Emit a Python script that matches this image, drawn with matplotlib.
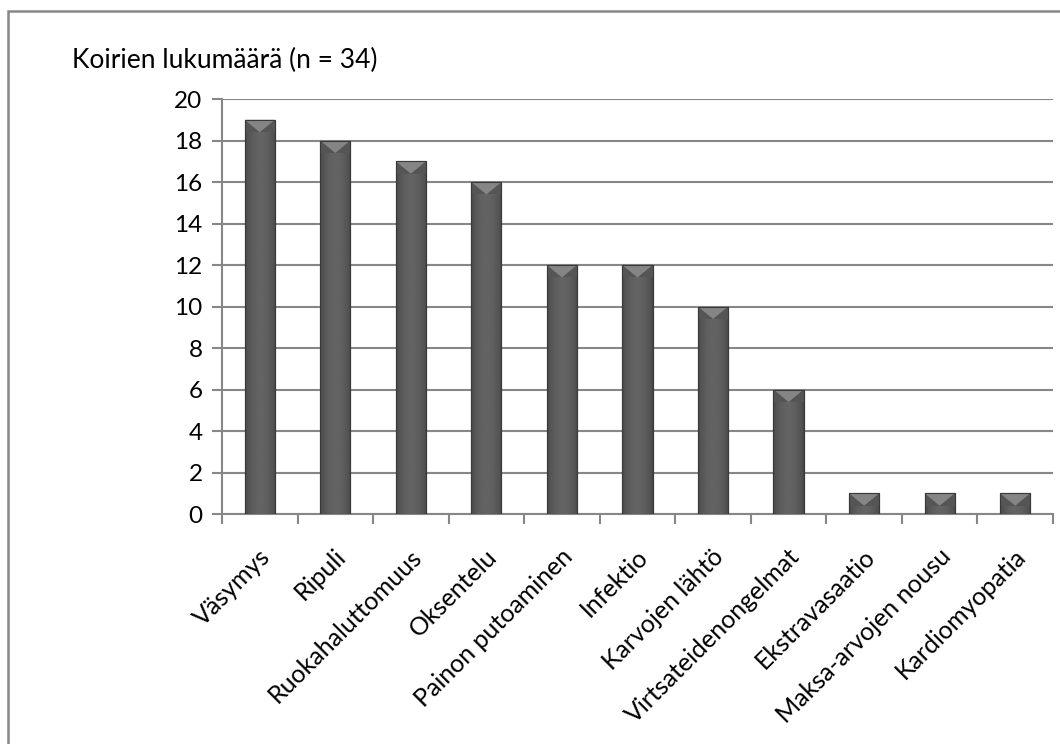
import matplotlib
matplotlib.use("Agg")
import matplotlib.pyplot as plt
import matplotlib.transforms as mtransforms
from matplotlib.patches import Rectangle, Polygon
import numpy as np

plt.rcParams['font.family'] = ['Lato', 'DejaVu Sans']

categories = ["Väsymys", "Ripuli", "Ruokahaluttomuus", "Oksentelu", "Painon putoaminen",
              "Infektio", "Karvojen lähtö", "Virtsateidenongelmat", "Ekstravasaatio",
              "Maksa-arvojen nousu", "Kardiomyopatia"]
counts = [19, 18, 17, 16, 12, 12, 10, 6, 1, 1, 1]
y_ticks = [0, 2, 4, 6, 8, 10, 12, 14, 16, 18, 20]
title = "Koirien lukumäärä (n = 34)"

GRID = "#878787"
BAR_W = 0.4

fig = plt.figure(figsize=(10.6, 7.44), dpi=100)
ax = fig.add_axes([0.2094, 0.3091, 0.7840, 0.5578])

x = np.arange(len(categories))
bars = ax.bar(x, counts, width=BAR_W, color="#505050", edgecolor="#3a3a3a",
              linewidth=0.8, zorder=3)

# horizontal shading across each bar (dark edges, lighter middle)
grad = np.linspace(0, 1, 64)
shade = 0.27 + 0.12 * np.sin(np.pi * grad) ** 0.6
img = np.tile(shade, (2, 1))
for b in bars:
    bx, bw, bh = b.get_x(), b.get_width(), b.get_height()
    im = ax.imshow(img, cmap="gray", vmin=0, vmax=1, aspect="auto",
                   extent=(bx, bx + bw, 0, bh), zorder=3.5, interpolation="bilinear")
    im.set_clip_path(b)
    # bevel at the top: darker band with a lighter inverted triangle
    bev = min(0.6, bh * 0.65)
    ax.add_patch(Polygon([(bx, bh), (bx + bw, bh), (bx + bw, bh - bev),
                          (bx, bh - bev)], closed=True,
                         facecolor="#555555", edgecolor="none", zorder=4))
    ax.add_patch(Polygon([(bx, bh), (bx + bw, bh), (bx + bw / 2, bh - bev)],
                         closed=True, facecolor="#858585", edgecolor="none", zorder=4.1))
    ax.add_patch(Rectangle((bx, 0), bw, bh, facecolor="none", edgecolor="#3a3a3a",
                           linewidth=0.8, zorder=4.2))

ax.set_xlim(-0.5, len(categories) - 0.5)
ax.set_ylim(0, 20)
ax.set_yticks(y_ticks)
ax.yaxis.grid(True, color=GRID, linewidth=1.5, zorder=0)
ax.set_axisbelow(True)

ax.set_xticks(x)
ax.set_xticklabels(categories, rotation=45, ha="right", va="center",
                   rotation_mode="anchor", fontsize=18)
ax.tick_params(axis="x", length=0, pad=28)
shift = mtransforms.ScaledTranslation(7 / 100, 0, fig.dpi_scale_trans)
for lbl in ax.get_xticklabels():
    lbl.set_transform(lbl.get_transform() + shift)
ax.set_xticks(np.arange(-0.5, len(categories)), minor=True)
ax.tick_params(axis="x", which="minor", length=7, width=1.5, color=GRID)
ax.tick_params(axis="y", length=7, width=1.5, color=GRID, labelsize=17.5, pad=7)

for s in ["top", "right"]:
    ax.spines[s].set_visible(False)
for s in ["left", "bottom"]:
    ax.spines[s].set_color(GRID)
    ax.spines[s].set_linewidth(1.5)

fig.text(0.068, 0.919, title, fontsize=19, ha="left", va="center")

# chart area border
fig.patches.append(Rectangle((0.0075, -0.2), 1.2, 0.2 + 0.985, transform=fig.transFigure,
                             facecolor="none", edgecolor=GRID, linewidth=1.8))

fig.savefig("out.png", dpi=100)
